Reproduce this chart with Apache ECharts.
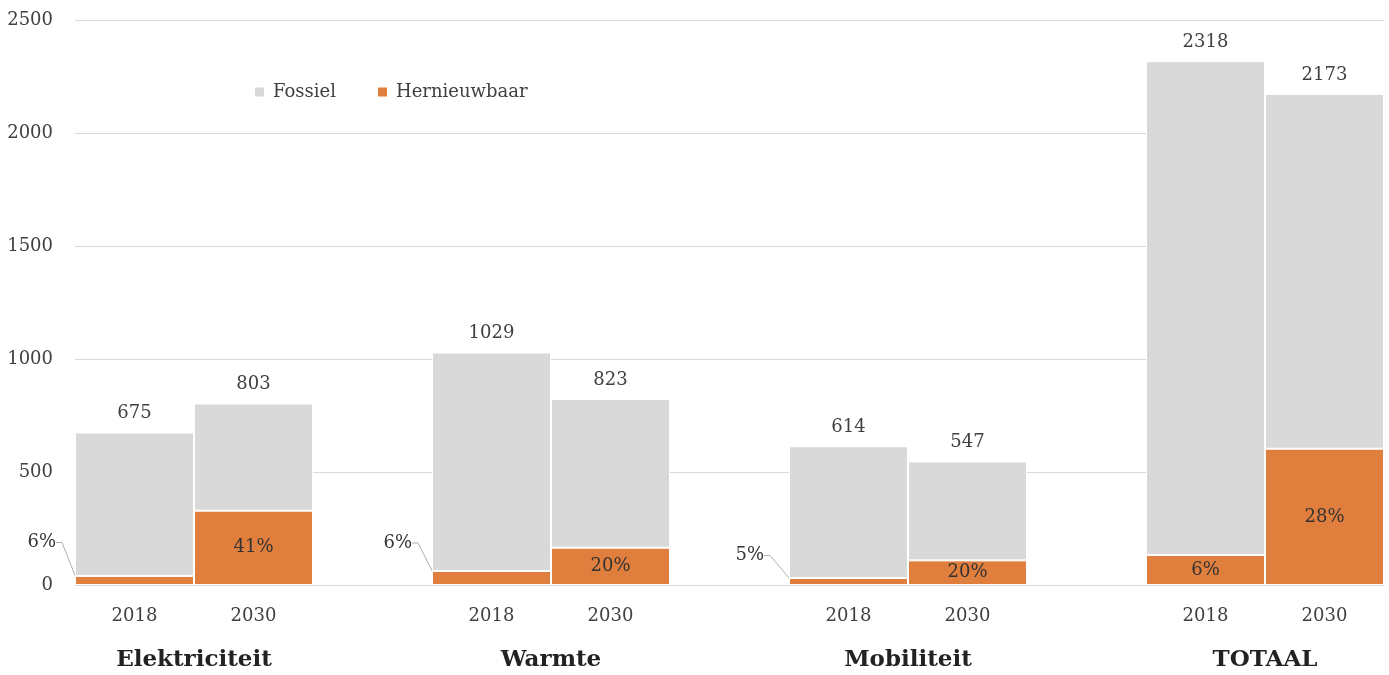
<!DOCTYPE html>
<html lang="nl">
<head>
    <meta charset="UTF-8">
    <script src="https://cdn.jsdelivr.net/npm/echarts@6/dist/echarts.min.js"></script>
    <title>Fossiel en hernieuwbaar</title>
    <style>
        html, body { margin: 0; padding: 0; background: #fff; }
    </style>
</head>
<body>
<div id="main" style="width: 1389px;height:675px;"></div>
<script type="text/javascript">
    // groepen en jaren
    var groups = ['Elektriciteit', 'Warmte', 'Mobiliteit', 'TOTAAL'];
    var years = ['2018', '2030'];
    // waarden per staaf (groep x jaar)
    var totals = [675, 803, 1029, 823, 614, 547, 2318, 2173];
    var hernieuwbaar = [40, 329, 62, 165, 31, 109, 133, 603];
    var fossiel = [635, 474, 967, 658, 583, 438, 2185, 1570];
    var percent = [6, 41, 6, 20, 5, 20, 6, 28];
    var yTicks = [0, 500, 1000, 1500, 2000, 2500];

    var FONT = 'DejaVu Serif';
    var TEXT = '#404040';

    // lege kolom tussen de groepen
    var slots = [], renData = [], fosData = [], slotIdx = [], groupAt = {};
    var k = 0;
    for (var g = 0; g < groups.length; g++) {
        groupAt[slots.length + 1] = groups[g];
        for (var y = 0; y < years.length; y++) {
            slotIdx[slots.length] = k;
            slots.push(years[y]);
            var small = hernieuwbaar[k] < 100;
            renData.push({
                value: hernieuwbaar[k],
                label: small ? {position: 'left', distance: 5} : {position: 'inside'}
            });
            fosData.push(fossiel[k]);
            k++;
        }
        if (g < groups.length - 1) {
            slots.push('');
            renData.push('-');
            fosData.push('-');
        }
    }

    // verschuiving van de kleine labels (naast de staaf)
    var outsideShift = {0: [-14, -38], 2: [-15, -35], 4: [-20, -26]};

    var myChart = echarts.init(document.getElementById('main'));

    var option = {
        animation: false,
        textStyle: {fontFamily: FONT, color: TEXT},
        legend: {
            left: 248,
            top: 78,
            itemWidth: 11,
            itemHeight: 11,
            itemGap: 40,
            icon: 'rect',
            textStyle: {fontFamily: FONT, fontSize: 18, color: TEXT, padding: [0, 0, 0, 3]},
            data: ['Fossiel', 'Hernieuwbaar']
        },
        grid: {left: 75, right: 5, top: 20, bottom: 90},
        xAxis: [{
            type: 'category',
            data: slots,
            axisTick: {show: false},
            axisLine: {lineStyle: {color: '#d9d9d9'}},
            axisLabel: {interval: 0, margin: 22, fontFamily: FONT, fontSize: 18, color: TEXT}
        }, {
            type: 'value',
            position: 'bottom',
            min: 0,
            max: slots.length,
            interval: 1,
            axisLine: {show: false},
            axisTick: {show: false},
            splitLine: {show: false},
            axisLabel: {
                margin: 64,
                showMinLabel: true,
                showMaxLabel: true,
                fontFamily: FONT,
                fontSize: 23,
                fontWeight: 'bold',
                color: '#222',
                formatter: function (v) { return groupAt[v] || ''; }
            }
        }],
        yAxis: {
            type: 'value',
            min: yTicks[0],
            max: yTicks[yTicks.length - 1],
            interval: 500,
            axisLine: {show: false},
            axisTick: {show: false},
            splitLine: {lineStyle: {color: '#d9d9d9'}},
            axisLabel: {
                margin: 22, fontFamily: FONT, fontSize: 18, color: TEXT,
                formatter: function (v) { return String(v); }
            }
        },
        series: [{
            name: 'Hernieuwbaar',
            type: 'bar',
            stack: 'tot',
            barCategoryGap: '0%',
            itemStyle: {color: '#e07f3d', borderColor: '#fff', borderWidth: 1},
            emphasis: {disabled: true},
            data: renData,
            label: {
                show: true,
                fontFamily: FONT,
                fontSize: 18,
                color: '#333',
                formatter: function (p) { return percent[slotIdx[p.dataIndex]] + '%'; }
            },
            labelLine: {show: true, length2: 6, lineStyle: {color: '#a9b2aa', width: 1}},
            labelLayout: function (p) {
                var s = outsideShift[slotIdx[p.dataIndex]];
                if (!s) return {};
                return {dx: s[0], dy: s[1]};
            }
        }, {
            name: 'Fossiel',
            type: 'bar',
            stack: 'tot',
            barCategoryGap: '0%',
            itemStyle: {color: '#d9d9d9', borderColor: '#fff', borderWidth: 1},
            emphasis: {disabled: true},
            data: fosData,
            label: {
                show: true,
                position: 'top',
                distance: 10,
                fontFamily: FONT,
                fontSize: 18,
                color: TEXT,
                formatter: function (p) { return totals[slotIdx[p.dataIndex]]; }
            }
        }]
    };

    myChart.setOption(option);
</script>
</body>
</html>
